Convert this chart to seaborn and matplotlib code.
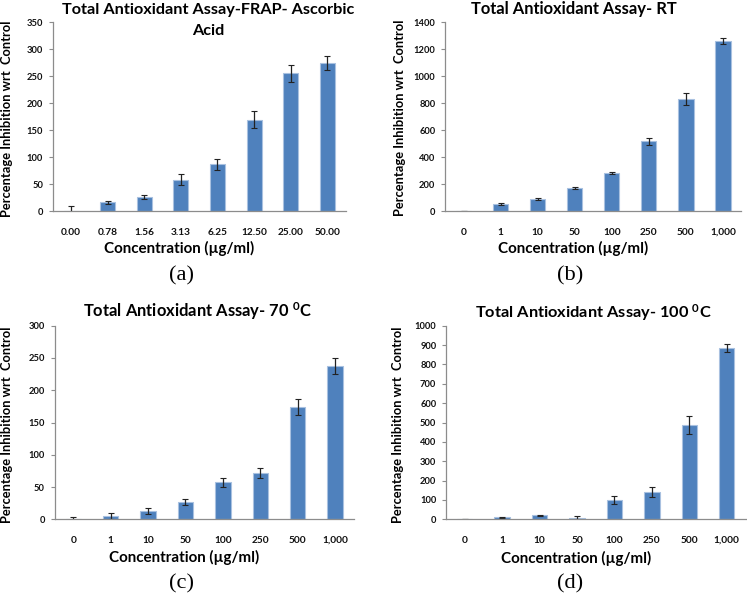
import matplotlib
matplotlib.use("Agg")
import matplotlib.pyplot as plt
import seaborn as sns
import pandas as pd
import numpy as np

# ---- data ----
cats_a = ["0.00", "0.78", "1.56", "3.13", "6.25", "12.50", "25.00", "50.00"]
vals_a = [0, 16.5, 26, 58.5, 87, 170, 255.5, 275]
errs_a = [9, 3.4, 3.7, 10.5, 10, 16, 16, 12.7]

cats_b = ["0", "1", "10", "50", "100", "250", "500", "1,000"]
vals_b = [2, 52, 91, 175, 284, 518, 830, 1262]
errs_b = [2, 6, 5, 7, 5, 28, 45, 20]

cats_c = ["0", "1", "10", "50", "100", "250", "500", "1,000"]
vals_c = [0.5, 5.2, 12.4, 26.8, 57.7, 72.2, 173.7, 237]
errs_c = [3.2, 4, 4.5, 4, 7, 8, 12, 12.6]

cats_d = ["0", "1", "10", "50", "100", "250", "500", "1,000"]
vals_d = [1, 10, 20.6, 8.6, 98, 141, 487, 883]
errs_d = [1, 2, 3, 7.5, 20, 24, 47, 20]

titles = [["Total Antioxidant Assay-FRAP- Ascorbic", "Acid"],
          ["Total Antioxidant Assay- RT"],
          ["Total Antioxidant Assay- 70 $\\mathregular{^0}$C"],
          ["Total Antioxidant Assay- 100 $\\mathregular{^0}$C"]]
ylims = [(0, 350), (0, 1400), (0, 300), (0, 1000)]
ysteps = [50, 200, 50, 100]
letters = ["(a)", "(b)", "(c)", "(d)"]
xlabel = "Concentration (µg/ml)"
ylabel = "Percentage Inhibition wrt  Control"

sns.set_theme(style="white")
plt.rcParams['font.family'] = ['Lato', 'DejaVu Sans']
plt.rcParams['mathtext.fontset'] = 'custom'
plt.rcParams['mathtext.rm'] = 'Lato:bold'
plt.rcParams['mathtext.it'] = 'Lato:bold'
plt.rcParams['mathtext.bf'] = 'Lato:bold'

W, H = 747, 598
fig = plt.figure(figsize=(W / 100, H / 100), dpi=100)
renderer = fig.canvas.get_renderer()


def fit_size(s, target_px, **kw):
    t = fig.text(0, 0, s, fontsize=10, **kw)
    w = t.get_window_extent(renderer).width
    t.remove()
    return 10 * target_px / w


# axes boxes in pixels: left, right, top, bottom
boxes = [(52.7, 345.6, 22.3, 211.3),
         (445.0, 741.5, 22.3, 211.3),
         (54.6, 353.7, 325.7, 519.3),
         (446.0, 745.5, 325.7, 519.3)]
title_x = [208, 573.5, 197, 593]
title_base = [[14, 35], [14], [317.5], [317.5]]
title_w = [293, 207, 230, 237]
xlabel_pos = [(179, 253.3), (573, 253.3), (184, 562), (576, 563)]
ylabel_pos = [(7.5, 119), (400, 118), (7, 425), (398, 425)]
letter_pos = [(182, 280), (570, 280), (182, 588), (570, 588)]

xtick_fs = fit_size("12.50", 26, fontweight="bold")
ytick_fs = fit_size("1400", 22, fontweight="bold")
xlabel_fs = fit_size(xlabel, 150, fontweight="bold")
ylabel_fs = fit_size(ylabel, 196, fontweight="bold")
letter_fs = fit_size("(a)", 25, family="Liberation Serif")

data = [(cats_a, vals_a, errs_a), (cats_b, vals_b, errs_b),
        (cats_c, vals_c, errs_c), (cats_d, vals_d, errs_d)]

bar_color = "#4F81BD"
edge_color = "#A9C1E0"
axis_color = "#8C8C8C"

for i, (cats, vals, errs) in enumerate(data):
    l, r, t, b = boxes[i]
    ax = fig.add_axes([l / W, 1 - b / H, (r - l) / W, (b - t) / H])
    df = pd.DataFrame({"cat": cats, "val": vals})
    sns.barplot(data=df, x="cat", y="val", ax=ax, color=bar_color,
                width=0.41, edgecolor=edge_color, linewidth=0.8,
                saturation=1, errorbar=None)
    ax.errorbar(np.arange(len(cats)), vals, yerr=errs, fmt="none",
                ecolor="#222222", elinewidth=0.9, capsize=2.4, capthick=0.8)
    ax.set_xlim(-0.5, len(cats) - 0.5)
    lo, hi = ylims[i]
    ax.set_ylim(lo, hi)
    ax.set_yticks(np.arange(lo, hi + 1, ysteps[i]))
    ax.set_xlabel("")
    ax.set_ylabel("")
    for s in ["top", "right"]:
        ax.spines[s].set_visible(False)
    for s in ["left", "bottom"]:
        ax.spines[s].set_color(axis_color)
        ax.spines[s].set_linewidth(0.9)
    ax.tick_params(axis="y", left=True, length=3, width=0.8, color=axis_color,
                   labelsize=ytick_fs, pad=4)
    ax.tick_params(axis="x", bottom=False, labelsize=xtick_fs, pad=6)
    for lab in ax.get_xticklabels() + ax.get_yticklabels():
        lab.set_fontweight("bold")
        lab.set_color("#111111")

    tfs = fit_size(titles[i][0], title_w[i], fontweight="bold")
    for line, yb in zip(titles[i], title_base[i]):
        fig.text(title_x[i] / W, 1 - yb / H, line, ha="center", va="baseline",
                 fontsize=tfs, fontweight="bold", color="#000000")
    xx, xy = xlabel_pos[i]
    fig.text(xx / W, 1 - xy / H, xlabel, ha="center", va="baseline",
             fontsize=xlabel_fs, fontweight="bold", color="#000000")
    yx, yy = ylabel_pos[i]
    fig.text(yx / W, 1 - yy / H, ylabel, ha="center", va="center",
             rotation=90, fontsize=ylabel_fs, fontweight="bold", color="#000000")
    lx, ly = letter_pos[i]
    fig.text(lx / W, 1 - ly / H, letters[i], ha="center", va="baseline",
             fontsize=letter_fs, family="Liberation Serif", color="#000000")

fig.savefig("out.png", dpi=100, facecolor="white")
